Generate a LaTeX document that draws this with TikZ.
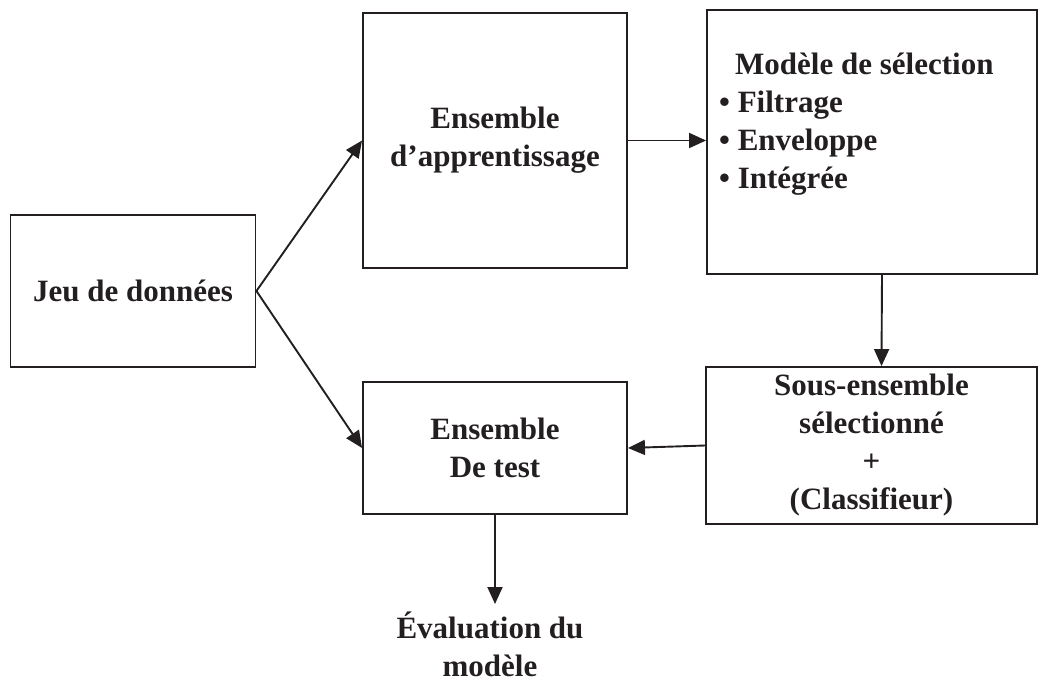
\documentclass[tikz,border=0pt]{standalone}
\usepackage{fontspec}
\setmainfont{Liberation Serif}
\usetikzlibrary{arrows.meta,calc}
\definecolor{ink}{HTML}{231F20}
\begin{document}
\begin{tikzpicture}[x=1pt,y=-1pt,
  txt/.style={inner sep=0pt,align=center,text=ink,font=\fontsize{31}{38}\selectfont\bfseries},
  box/.style={txt,draw=ink,line width=1.9pt},
  arr/.style={draw=ink,line width=1.9pt,-{Triangle[length=17pt,width=15pt]}}]
\useasboundingbox (0,0) rectangle (1047,682);
\node[box,minimum width=245pt,minimum height=152pt] (jeu) at (133,291) {Jeu de données};
\node[box,minimum width=264pt,minimum height=255pt] (app) at (495,140.5) {Ensemble\\d’apprentissage};
\node[box,minimum width=330pt,minimum height=264pt] (msel) at (872,142) {};
\node[txt,align=left,anchor=north west] (mtext) at (719,53) {\hspace{16pt}Modèle de sélection\\• Filtrage\\• Enveloppe\\• Intégrée};
\node[box,minimum width=331pt,minimum height=157pt] (sous) at (871.5,445.5) {Sous-ensemble\\sélectionné\\+\\(Classifieur)};
\node[box,minimum width=264pt,minimum height=132pt] (test) at (495,448) {Ensemble\\De test};
\node[txt,anchor=north] (eval) at (490,612) {Évaluation du\\modèle};
\draw[arr] (jeu.east) -- (app.west);
\draw[arr] (jeu.east) -- (test.west);
\draw[arr] (app.east) -- (app.east -| msel.west);
\draw[arr] ([xshift=10pt]msel.south) -- ([xshift=10pt]sous.north);
\draw[arr] (sous.west) -- (test.east);
\draw[arr] (test.south) -- (test.south |- eval.north) [shorten >=8pt];
\end{tikzpicture}
\end{document}
